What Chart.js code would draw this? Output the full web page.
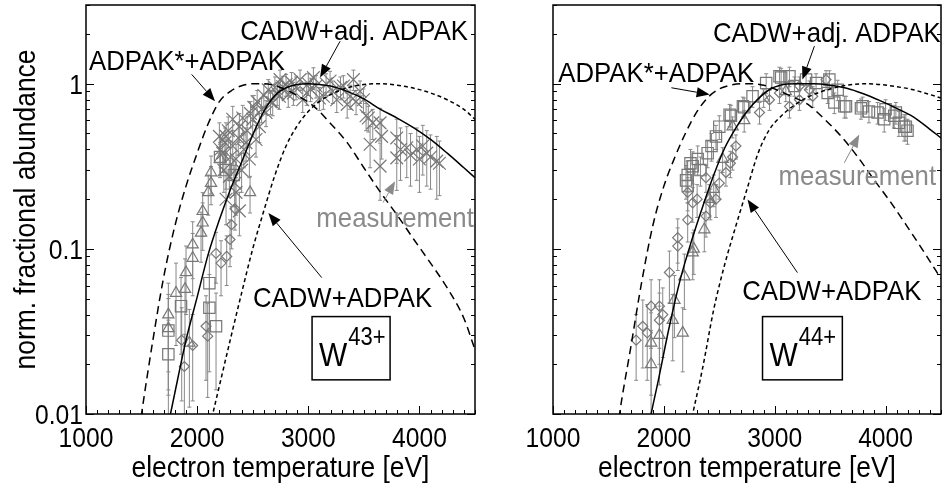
<!DOCTYPE html>
<html lang="en">
<head>
<meta charset="UTF-8">
<title>W43+ / W44+ fractional abundance</title>
<script src="https://cdn.jsdelivr.net/npm/chart.js"></script>
<style>
  html, body { margin: 0; padding: 0; background: #fff; }
  .panel { position: absolute; top: 0; }
  #panelW43 { left: 0; }
  #panelW44 { left: 480px; }
</style>
</head>
<body>
<div class="panel" id="panelW43"><canvas id="chartW43" width="480" height="491"></canvas></div>
<div class="panel" id="panelW44"><canvas id="chartW44" width="462" height="491"></canvas></div>
<script>
// axis ticks
const tempTicks = [1000, 2000, 3000, 4000];
const abundanceTicks = [0.01, 0.1, 1];
const abundanceLabels = ['0.01', '0.1', '1'];

// W43+ model curves [Te (eV), abundance]
const w43AdpakStar = [[1450, 0.0056], [1500, 0.010], [1600, 0.0275], [1700, 0.068], [1800, 0.138], [1900, 0.24], [2000, 0.38], [2100, 0.575], [2200, 0.78], [2300, 0.90], [2400, 0.973], [2500, 1.0], [2600, 1.0], [2750, 0.95], [2900, 0.85], [3050, 0.73], [3200, 0.575], [3350, 0.44], [3500, 0.31], [3650, 0.22], [3800, 0.16], [3950, 0.114], [4100, 0.082], [4250, 0.058], [4400, 0.038], [4500, 0.0245]];
const w43Cadw = [[2100, 0.0078], [2140, 0.010], [2200, 0.0148], [2300, 0.0285], [2400, 0.054], [2500, 0.10], [2600, 0.17], [2700, 0.28], [2800, 0.42], [2900, 0.556], [3000, 0.68], [3100, 0.78], [3200, 0.86], [3350, 0.946], [3500, 0.99], [3650, 1.0], [3800, 0.98], [3950, 0.94], [4100, 0.88], [4250, 0.80], [4400, 0.70], [4500, 0.61]];
const w43CadwAdj = [[1700, 0.0065], [1760, 0.010], [1800, 0.0135], [1900, 0.028], [2000, 0.051], [2100, 0.093], [2200, 0.15], [2300, 0.23], [2400, 0.335], [2500, 0.49], [2600, 0.68], [2700, 0.85], [2800, 0.946], [2900, 0.99], [3000, 1.0], [3100, 0.99], [3200, 0.97], [3350, 0.90], [3500, 0.81], [3650, 0.70], [3800, 0.62], [3950, 0.54], [4100, 0.46], [4250, 0.38], [4400, 0.31], [4500, 0.27]];

// W43+ measurements [Te (eV), abundance, error]
const w43Triangles = [[1741, 0.040, 0.022], [1741, 0.033, 0.020], [1810, 0.054, 0.028], [1891, 0.057, 0.030], [1900, 0.072, 0.032], [1930, 0.027, 0.016], [1960, 0.106, 0.040], [1960, 0.088, 0.036], [2035, 0.125, 0.042], [2050, 0.169, 0.050], [2050, 0.144, 0.046], [2100, 0.22, 0.060], [2125, 0.29, 0.075], [2125, 0.25, 0.065], [2206, 0.35, 0.080], [2476, 0.22, 0.055]];
const w43Squares = [[1741, 0.032, 0.018], [1741, 0.023, 0.014], [1855, 0.045, 0.022], [2110, 0.062, 0.030], [2110, 0.044, 0.026], [2170, 0.034, 0.020], [2206, 0.36, 0.08], [2260, 0.30, 0.07], [2330, 0.28, 0.07]];
const w43Diamonds = [[1861, 0.028, 0.016], [1885, 0.0194, 0.011], [1960, 0.026, 0.014], [2080, 0.034, 0.018], [2095, 0.0296, 0.017], [2170, 0.094, 0.032], [2215, 0.082, 0.030], [2266, 0.090, 0.030], [2296, 0.114, 0.036], [2310, 0.140, 0.040], [2340, 0.175, 0.045]];
const w43Crosses = [
  [2200, 0.48, 0.10], [2210, 0.40, 0.09], [2230, 0.38, 0.09], [2240, 0.30, 0.08], [2250, 0.44, 0.10],
  [2260, 0.48, 0.10], [2260, 0.20, 0.06], [2280, 0.52, 0.11], [2290, 0.275, 0.07], [2300, 0.36, 0.09],
  [2320, 0.42, 0.10], [2320, 0.61, 0.12], [2340, 0.25, 0.07], [2350, 0.35, 0.08], [2350, 0.22, 0.06],
  [2370, 0.47, 0.10], [2380, 0.55, 0.11], [2380, 0.17, 0.05], [2400, 0.30, 0.08], [2410, 0.62, 0.12],
  [2420, 0.40, 0.09], [2440, 0.44, 0.10], [2450, 0.52, 0.11], [2470, 0.35, 0.08], [2480, 0.66, 0.12],
  [2500, 0.61, 0.12], [2510, 0.72, 0.13], [2530, 0.46, 0.10], [2540, 0.78, 0.13], [2560, 0.55, 0.11],
  [2580, 0.70, 0.12], [2600, 0.85, 0.14], [2620, 0.67, 0.12], [2640, 0.92, 0.14], [2660, 0.78, 0.13],
  [2680, 0.77, 0.13], [2700, 0.95, 0.15], [2720, 0.88, 0.14], [2740, 0.84, 0.14], [2746, 1.06, 0.15],
  [2770, 0.96, 0.15], [2800, 0.99, 0.15], [2820, 0.86, 0.14], [2850, 1.02, 0.15], [2866, 0.88, 0.14],
  [2890, 0.95, 0.15], [2926, 1.06, 0.15], [2950, 0.80, 0.13], [2986, 0.88, 0.14], [3000, 1.00, 0.15],
  [3020, 0.93, 0.15], [3046, 1.09, 0.16], [3070, 0.97, 0.15], [3100, 0.82, 0.13], [3136, 0.84, 0.14],
  [3160, 1.00, 0.15], [3196, 1.04, 0.15], [3220, 0.90, 0.14], [3256, 0.80, 0.13], [3290, 0.95, 0.15],
  [3316, 0.97, 0.15], [3350, 0.75, 0.13], [3376, 0.84, 0.14], [3406, 1.06, 0.15], [3430, 0.78, 0.13],
  [3466, 0.90, 0.14], [3496, 0.80, 0.13], [3520, 0.64, 0.12], [3540, 0.62, 0.11], [3556, 0.43, 0.12],
  [3580, 0.58, 0.12], [3646, 0.58, 0.13], [3646, 0.317, 0.12], [3660, 0.48, 0.13], [3796, 0.47, 0.14],
  [3796, 0.356, 0.13], [3830, 0.40, 0.14], [3886, 0.41, 0.14], [3920, 0.37, 0.13], [3976, 0.40, 0.14],
  [4000, 0.35, 0.13], [4030, 0.42, 0.14], [4066, 0.38, 0.14], [4100, 0.36, 0.13], [4156, 0.34, 0.14],
  [4180, 0.33, 0.12]
];

// W44+ model curves [Te (eV), abundance]
const w44AdpakStar = [[1550, 0.0055], [1600, 0.010], [1700, 0.025], [1800, 0.063], [1900, 0.138], [2000, 0.24], [2100, 0.36], [2200, 0.51], [2300, 0.68], [2400, 0.83], [2500, 0.93], [2600, 0.98], [2700, 1.0], [2800, 1.0], [2900, 0.98], [3000, 0.93], [3150, 0.84], [3300, 0.75], [3450, 0.61], [3600, 0.48], [3750, 0.36], [3900, 0.26], [4050, 0.19], [4200, 0.135], [4350, 0.095], [4500, 0.066]];
const w44Cadw = [[2200, 0.0065], [2260, 0.010], [2350, 0.019], [2450, 0.043], [2550, 0.081], [2650, 0.138], [2750, 0.23], [2850, 0.38], [2950, 0.525], [3050, 0.63], [3200, 0.76], [3350, 0.86], [3500, 0.93], [3650, 0.98], [3800, 1.0], [3950, 0.99], [4100, 0.96], [4250, 0.92], [4400, 0.86], [4500, 0.82]];
const w44CadwAdj = [[1850, 0.0075], [1885, 0.010], [1950, 0.016], [2050, 0.034], [2150, 0.066], [2250, 0.112], [2350, 0.18], [2450, 0.28], [2550, 0.41], [2650, 0.54], [2750, 0.68], [2850, 0.81], [2950, 0.92], [3050, 0.98], [3200, 1.0], [3350, 1.0], [3500, 0.98], [3650, 0.94], [3800, 0.87], [3950, 0.79], [4100, 0.71], [4250, 0.63], [4400, 0.53], [4500, 0.47]];

// W44+ measurements [Te (eV), abundance, error]
const w44Triangles = [[1885, 0.020, 0.012], [1885, 0.027, 0.014], [1960, 0.030, 0.015], [2080, 0.037, 0.016], [2095, 0.049, 0.020], [2170, 0.031, 0.013], [2185, 0.068, 0.025], [2260, 0.095, 0.030], [2270, 0.100, 0.030], [2365, 0.131, 0.035], [2410, 0.20, 0.045], [2450, 0.23, 0.050], [2530, 0.35, 0.060], [2620, 0.55, 0.080], [2725, 0.60, 0.090], [2900, 0.82, 0.10], [3100, 0.90, 0.12]];
const w44Diamonds = [[1750, 0.028, 0.012], [1810, 0.034, 0.015], [1850, 0.031, 0.015], [1885, 0.045, 0.020], [1960, 0.045, 0.020], [1960, 0.037, 0.017], [1990, 0.040, 0.018], [2050, 0.072, 0.025], [2125, 0.104, 0.030], [2125, 0.117, 0.035], [2215, 0.15, 0.040], [2215, 0.22, 0.050], [2260, 0.19, 0.045], [2300, 0.20, 0.045], [2380, 0.27, 0.050], [2380, 0.158, 0.040], [2420, 0.19, 0.040], [2470, 0.20, 0.045], [2500, 0.25, 0.050], [2560, 0.29, 0.050], [2600, 0.33, 0.060], [2620, 0.36, 0.060], [2650, 0.42, 0.070], [2863, 0.67, 0.10], [2953, 0.80, 0.11], [3043, 0.88, 0.12], [3133, 0.73, 0.11], [3223, 0.97, 0.13], [3223, 0.80, 0.11], [3313, 0.92, 0.12], [3343, 0.84, 0.12], [3463, 1.06, 0.14]];
const w44Squares = [[2200, 0.26, 0.06], [2215, 0.28, 0.06], [2215, 0.24, 0.05], [2240, 0.33, 0.07], [2260, 0.317, 0.07], [2305, 0.35, 0.07], [2330, 0.30, 0.06], [2395, 0.38, 0.07], [2430, 0.42, 0.08], [2470, 0.48, 0.08], [2500, 0.55, 0.09], [2593, 0.65, 0.10], [2605, 0.64, 0.10], [2713, 0.73, 0.10], [2725, 0.72, 0.10], [2800, 0.84, 0.12], [2923, 1.01, 0.14], [3043, 1.11, 0.15], [3058, 1.09, 0.15], [3133, 1.11, 0.15], [3178, 0.97, 0.13], [3283, 1.06, 0.14], [3373, 1.01, 0.14], [3478, 0.88, 0.12], [3493, 1.06, 0.14], [3538, 0.77, 0.11], [3568, 0.92, 0.13], [3628, 0.73, 0.11], [3643, 0.73, 0.11], [3778, 0.71, 0.10], [3793, 0.73, 0.10], [3850, 0.68, 0.10], [3928, 0.67, 0.10], [3988, 0.61, 0.10], [4000, 0.70, 0.10], [4078, 0.64, 0.10], [4093, 0.67, 0.10], [4120, 0.58, 0.10], [4168, 0.55, 0.10], [4183, 0.55, 0.10], [4198, 0.52, 0.09]];

// text is drawn with Liberation Sans squeezed horizontally (the original uses a condensed face)
const FONT = "'Liberation Sans', Arial, sans-serif";
const SQUEEZE = 0.88;
const NOTE_SQUEEZE = 0.92;
const GRAY = '#777';
const GRAY_BAR = '#888';
const GRAY_TEXT = '#8a8a8a';

function pts(list) {
  return list.map(p => ({ x: p[0], y: p[1] }));
}

function curve(list, dash) {
  return {
    data: pts(list), showLine: true, borderColor: '#000', borderWidth: 1.5,
    borderDash: dash, pointRadius: 0, cubicInterpolationMode: 'monotone', order: 0
  };
}

function measured(list, style, radius) {
  return {
    data: pts(list), errors: list.map(p => p[2]),
    pointStyle: style, pointRadius: radius, borderColor: GRAY, pointBorderColor: GRAY,
    backgroundColor: 'rgba(0,0,0,0)', pointBackgroundColor: 'rgba(0,0,0,0)',
    pointBorderWidth: 1.2, showLine: false, order: 1
  };
}

function squeezedText(ctx, text, x, y, size, align, color, rotate, squeeze) {
  ctx.save();
  ctx.translate(x, y);
  if (rotate) ctx.rotate(rotate);
  ctx.scale(squeeze || SQUEEZE, 1);
  ctx.font = `${size}px ${FONT}`;
  ctx.textAlign = align;
  ctx.textBaseline = 'alphabetic';
  ctx.fillStyle = color;
  ctx.fillText(text, 0, 0);
  ctx.restore();
}

// vertical error bars, drawn below the markers
const errorBars = {
  id: 'errorBars',
  beforeDatasetsDraw(chart) {
    const { ctx, chartArea: a, scales: { y } } = chart;
    ctx.save();
    ctx.beginPath();
    ctx.rect(a.left, a.top, a.right - a.left, a.bottom - a.top);
    ctx.clip();
    ctx.strokeStyle = GRAY_BAR;
    ctx.lineWidth = 1;
    chart.data.datasets.forEach((ds, i) => {
      if (!ds.errors) return;
      const meta = chart.getDatasetMeta(i);
      meta.data.forEach((pt, j) => {
        const v = ds.data[j].y, e = ds.errors[j];
        const yTop = y.getPixelForValue(v + e);
        const yBot = y.getPixelForValue(Math.max(v - e, 1e-4));
        ctx.beginPath();
        ctx.moveTo(pt.x, yTop); ctx.lineTo(pt.x, yBot);
        ctx.moveTo(pt.x - 2, yTop); ctx.lineTo(pt.x + 2, yTop);
        ctx.moveTo(pt.x - 2, yBot); ctx.lineTo(pt.x + 2, yBot);
        ctx.stroke();
      });
    });
    ctx.restore();
  }
};

// box around plot, inward tick marks, tick labels and axis titles
const frame = {
  id: 'frame',
  afterDatasetsDraw(chart) {
    const { ctx, chartArea: a, scales: { x, y } } = chart;
    const showY = chart.options.plugins.frame.showY;
    ctx.save();
    ctx.strokeStyle = '#000';
    ctx.lineWidth = 1;
    ctx.beginPath();
    for (let t = 1000; t <= 4500; t += 100) {
      const px = Math.round(x.getPixelForValue(t)) + 0.5;
      const len = t % 1000 === 0 ? 8 : 4;
      ctx.moveTo(px, a.bottom); ctx.lineTo(px, a.bottom - len);
    }
    abundanceTicks.forEach(dec => {
      for (let m = 1; m <= 9; m++) {
        const v = dec * m;
        if (v > 3.001) break;
        const py = Math.round(y.getPixelForValue(v)) + 0.5;
        const len = m === 1 ? 8 : 4;
        ctx.moveTo(a.left, py); ctx.lineTo(a.left + len, py);
        ctx.moveTo(a.right, py); ctx.lineTo(a.right - len, py);
      }
    });
    ctx.stroke();
    ctx.lineWidth = 1.5;
    ctx.strokeRect(a.left, a.top, a.right - a.left, a.bottom - a.top);
    ctx.restore();

    tempTicks.forEach(t => squeezedText(ctx, String(t), x.getPixelForValue(t), a.bottom + 33, 28, 'center', '#000'));
    squeezedText(ctx, 'electron temperature [eV]', (a.left + a.right) / 2, 477, 30, 'center', '#000');
    if (showY) {
      abundanceTicks.forEach((v, i) => squeezedText(ctx, abundanceLabels[i], a.left - 3, y.getPixelForValue(v) + 10, 28, 'right', '#000'));
      squeezedText(ctx, 'norm. fractional abundance', 35, (a.top + a.bottom) / 2, 30, 'center', '#000', -Math.PI / 2);
    }
  }
};

function drawArrow(ctx, x0, y0, x1, y1, color) {
  const ang = Math.atan2(y1 - y0, x1 - x0);
  const len = 13, half = 5;
  const c = Math.cos(ang), s = Math.sin(ang);
  ctx.strokeStyle = color;
  ctx.fillStyle = color;
  ctx.lineWidth = 1;
  ctx.beginPath();
  ctx.moveTo(x0, y0);
  ctx.lineTo(x1 - len * c, y1 - len * s);
  ctx.stroke();
  ctx.beginPath();
  ctx.moveTo(x1, y1);
  ctx.lineTo(x1 - len * c + half * s, y1 - len * s - half * c);
  ctx.lineTo(x1 - len * c - half * s, y1 - len * s + half * c);
  ctx.closePath();
  ctx.fill();
}

function notesPlugin(notes) {
  return {
    id: 'notes',
    afterDraw(chart) {
      const { ctx, scales: { x, y } } = chart;
      notes.texts.forEach(n => {
        squeezedText(ctx, n.text, x.getPixelForValue(n.t), y.getPixelForValue(n.f), 28, 'center', n.color, 0, NOTE_SQUEEZE);
      });
      ctx.save();
      notes.arrows.forEach(n => {
        drawArrow(ctx, x.getPixelForValue(n.from[0]), y.getPixelForValue(n.from[1]),
          x.getPixelForValue(n.to[0]), y.getPixelForValue(n.to[1]), n.color);
      });
      const b = notes.box;
      const bl = x.getPixelForValue(b.t0), br = x.getPixelForValue(b.t1);
      const bt = y.getPixelForValue(b.f1), bb = y.getPixelForValue(b.f0);
      ctx.strokeStyle = '#000';
      ctx.lineWidth = 1.5;
      ctx.strokeRect(bl, bt, br - bl, bb - bt);
      ctx.font = `34px ${FONT}`;
      const w = ctx.measureText(b.base).width * SQUEEZE;
      ctx.restore();
      squeezedText(ctx, b.base, bl + 7, bb - 14, 34, 'left', '#000');
      squeezedText(ctx, b.sup, bl + 8 + w, bt + 28, 25, 'left', '#000');
    }
  };
}

const notesW43 = {
  texts: [
    { text: 'CADW+adj. ADPAK', t: 3412, f: 1.85, color: '#000' },
    { text: 'ADPAK*+ADPAK', t: 1909, f: 1.22, color: '#000' },
    { text: 'measurement', t: 3781, f: 0.136, color: GRAY_TEXT },
    { text: 'CADW+ADPAK', t: 3308, f: 0.0447, color: '#000' }
  ],
  arrows: [
    { from: [3286, 1.81], to: [3106, 1.09], color: '#000' },
    { from: [1951, 1.14], to: [2161, 0.785], color: '#000' },
    { from: [3673, 0.191], to: [3781, 0.257], color: GRAY_TEXT },
    { from: [3121, 0.067], to: [2641, 0.165], color: '#000' }
  ],
  box: { t0: 3034, t1: 3736, f0: 0.0161, f1: 0.0389, base: 'W', sup: '43+' }
};

const notesW44 = {
  texts: [
    { text: 'CADW+adj. ADPAK', t: 3470, f: 1.80, color: '#000' },
    { text: 'ADPAK*+ADPAK', t: 1931, f: 1.03, color: '#000' },
    { text: 'measurement', t: 3745, f: 0.245, color: GRAY_TEXT },
    { text: 'CADW+ADPAK', t: 3515, f: 0.0493, color: '#000' }
  ],
  arrows: [
    { from: [3358, 1.69], to: [3250, 1.06], color: '#000' },
    { from: [2068, 0.946], to: [2413, 0.861], color: '#000' },
    { from: [3628, 0.332], to: [3763, 0.493], color: GRAY_TEXT },
    { from: [3205, 0.0718], to: [2755, 0.199], color: '#000' }
  ],
  box: { t0: 2890, t1: 3610, f0: 0.0161, f1: 0.0389, base: 'W', sup: '44+' }
};

function fixBox(size, key) {
  return s => {
    s[key] = size;
    s.paddingTop = 0; s.paddingBottom = 0; s.paddingLeft = 0; s.paddingRight = 0;
  };
}

function makeChart(canvasId, datasets, notes, showY, yWidth, padRight) {
  return new Chart(document.getElementById(canvasId), {
    type: 'scatter',
    data: { datasets: datasets },
    options: {
      responsive: false,
      animation: false,
      devicePixelRatio: 1,
      layout: { autoPadding: false, padding: { top: 5, right: padRight, bottom: 0, left: 0 } },
      plugins: { legend: { display: false }, tooltip: { enabled: false }, frame: { showY: showY } },
      scales: {
        x: {
          type: 'linear', min: 1000, max: 4500,
          afterBuildTicks: s => { s.ticks = tempTicks.map(v => ({ value: v })); },
          afterFit: fixBox(77, 'height'),
          grid: { display: false },
          border: { display: false },
          ticks: { display: false }
        },
        y: {
          type: 'logarithmic', min: 0.01, max: 3,
          afterBuildTicks: s => { s.ticks = abundanceTicks.map(v => ({ value: v })); },
          afterFit: fixBox(yWidth, 'width'),
          grid: { display: false },
          border: { display: false },
          ticks: { display: false }
        }
      }
    },
    plugins: [errorBars, frame, notesPlugin(notes)]
  });
}

makeChart('chartW43', [
  curve(w43AdpakStar, [8, 5]),
  curve(w43Cadw, [4, 3]),
  curve(w43CadwAdj, []),
  measured(w43Triangles, 'triangle', 6.5),
  measured(w43Squares, 'rect', 8),
  measured(w43Diamonds, 'rectRot', 5),
  measured(w43Crosses, 'crossRot', 9)
], notesW43, true, 86, 5);

makeChart('chartW44', [
  curve(w44AdpakStar, [8, 5]),
  curve(w44Cadw, [4, 3]),
  curve(w44CadwAdj, []),
  measured(w44Triangles, 'triangle', 6.5),
  measured(w44Squares, 'rect', 8),
  measured(w44Diamonds, 'rectRot', 5)
], notesW44, false, 73, 1);
</script>
</body>
</html>
